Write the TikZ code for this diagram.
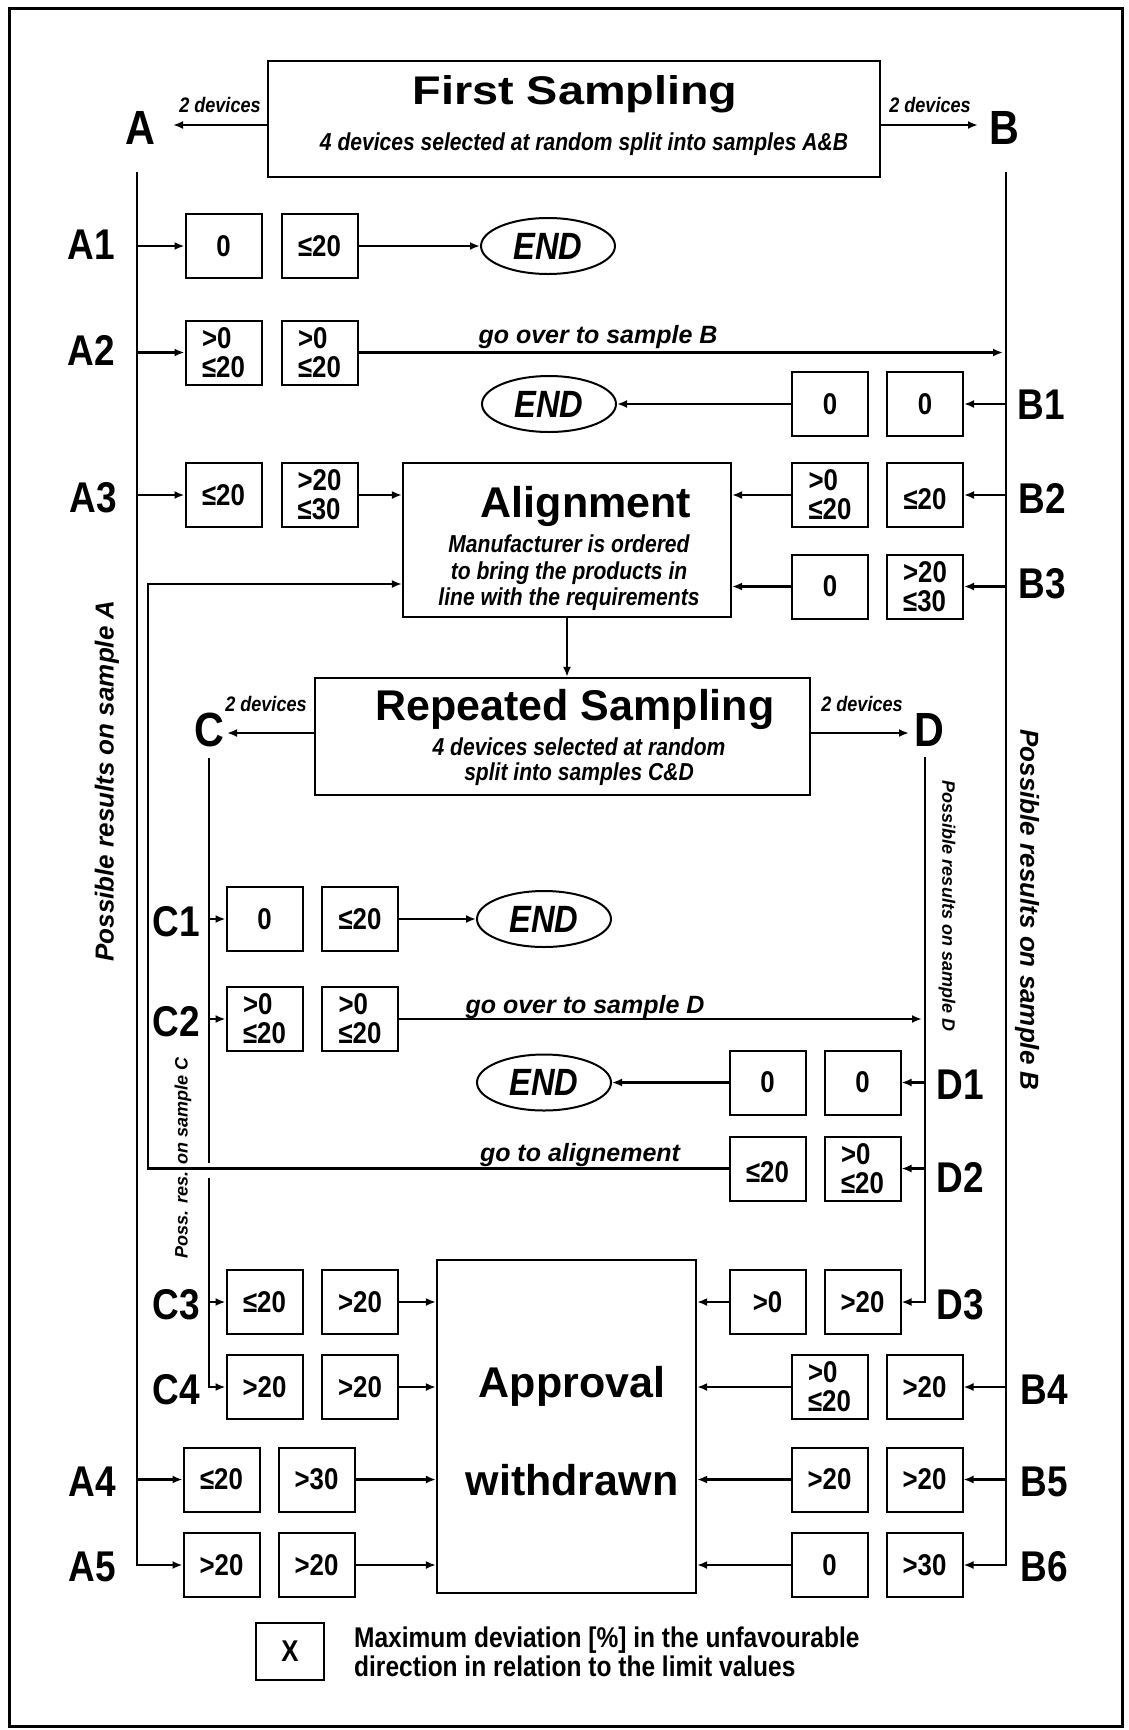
\documentclass[tikz,border=0pt]{standalone}
\usepackage{fontspec}
\setmainfont{Liberation Sans}
\newfontfamily\condfont{Liberation Sans}[FakeStretch=0.86]
\usetikzlibrary{arrows.meta,shapes.geometric,calc}
\newcommand\fsz[2]{\fontsize{#1}{#2}\selectfont}
\begin{document}
\begin{tikzpicture}[x=1pt,y=-1pt,
  box/.style={draw, line width=2.2pt, inner sep=0pt},
  val/.style={draw, line width=2pt, minimum width=76pt, minimum height=64pt, inner sep=0pt, align=left, font=\condfont\bfseries\fsz{30}{29}},
  endnode/.style={draw, ellipse, line width=2pt, minimum width=134pt, minimum height=56pt, inner sep=0pt, font=\condfont\bfseries\itshape\fsz{38}{40}},
  rowlab/.style={font=\condfont\bfseries\fsz{43}{46}, inner sep=0pt},
  biglab/.style={font=\condfont\bfseries\fsz{48}{50}, inner sep=0pt},
  title/.style={font=\bfseries\fsz{43}{46}, inner sep=0pt},
  sub/.style={font=\condfont\bfseries\itshape\fsz{24.5}{26.5}, inner sep=0pt, align=center},
  small/.style={font=\condfont\bfseries\itshape\fsz{21}{22}, inner sep=0pt},
  mid/.style={font=\bfseries\itshape\fsz{25}{28}, inner sep=0pt},
  rot/.style={font=\bfseries\itshape\fsz{26}{28}, inner sep=0pt},
  rotsm/.style={font=\bfseries\itshape\fsz{18}{20}, inner sep=0pt},
  legend/.style={font=\condfont\bfseries\fsz{28.5}{29}, inner sep=0pt, align=left},
  arr/.style={line width=2.2pt, -{Latex[length=10pt,width=8pt]}},
  ln/.style={line width=2.2pt}]
\useasboundingbox (0,0) rectangle (1129,1730);
\draw[line width=3pt] (9,8) rectangle (1122,1726);

% main boxes
\node[box, minimum width=612pt, minimum height=116pt] (FS) at (574,119) {};
\node[box, minimum width=328pt, minimum height=154pt] (Align) at (567,540) {};
\node[box, minimum width=495pt, minimum height=117pt] (RS) at (562.5,736.5) {};
\node[box, minimum width=259pt, minimum height=333pt] (Appr) at (566.5,1426.5) {};

% texts in main boxes
\node[title, anchor=base] (FStitle) at (575,104) {\scalebox{1.17}[1]{\fsz{40}{44}First Sampling}};
\node[sub, anchor=base] (FSsub) at (584,150) {4 devices selected at random split into samples A\&B};
\node[title, anchor=base] (AlTitle) at (586,517) {Alignment};
\node[sub] (AlSub) at (569,573) {Manufacturer is ordered\\to bring the products in\\line with the requirements};
\node[title, anchor=base] (RStitle) at (575,720) {Repeated Sampling};
\node[sub, font=\condfont\bfseries\itshape\fsz{24.5}{25}] (RSsub) at (579,762) {4 devices selected at random\\split into samples C\&D};
\node[title, anchor=base] (ApTitle1) at (572,1397) {Approval};
\node[title, anchor=base] (ApTitle2) at (572,1495) {withdrawn};

% sample letters
\node[biglab] (Alab) at (140,128) {A};
\node[biglab] (Blab) at (1004,128) {B};
\node[biglab] (Clab) at (209,730) {C};
\node[biglab] (Dlab) at (929,730) {D};
\node[small, anchor=base] (devA) at (220,112) {2 devices};
\node[small, anchor=base] (devB) at (930,112) {2 devices};
\node[small, anchor=base] (devC) at (266,711) {2 devices};
\node[small, anchor=base] (devD) at (862,711) {2 devices};

\coordinate (Atip) at (173,125);
\coordinate (Btip) at (978,125);
\coordinate (Ctip) at (227,733);
\coordinate (Dtip) at (909,733);
\draw[arr] (FS.west |- Atip) -- (Atip);
\draw[arr] (FS.east |- Btip) -- (Btip);
\draw[arr] (RS.west |- Ctip) -- (Ctip);
\draw[arr] (RS.east |- Dtip) -- (Dtip);

% vertical lines
\coordinate (Atop) at (137,172);
\coordinate (Btop) at (1006,172);
\coordinate (Ctop) at (209,758);
\coordinate (Dtop) at (925,757);
\coordinate (Cgapa) at (209,1163);
\coordinate (Cgapb) at (209,1178);
\coordinate (Loop) at (148,584);

% value boxes, sample A
\node[val] (A1a) at (223.5,246) {0};
\node[val] (A1b) at (319.5,246) {≤20};
\node[val] (A2a) at (223.5,352.5) {>0\\≤20};
\node[val] (A2b) at (319.5,352.5) {>0\\≤20};
\node[val] (A3a) at (223.5,495) {≤20};
\node[val] (A3b) at (319.5,495) {>20\\≤30};
\node[val] (A4a) at (221.5,1479.5) {≤20};
\node[val] (A4b) at (316.5,1479.5) {>30};
\node[val] (A5a) at (221.5,1565) {>20};
\node[val] (A5b) at (316.5,1565) {>20};
% sample B
\node[val] (B1a) at (830,404) {0};
\node[val] (B1b) at (925,404) {0};
\node[val] (B2a) at (830,495) {>0\\≤20};
\node[val] (B2b) at (925,495) {\mbox{}\\≤20};
\node[val] (B3a) at (830,586.5) {0};
\node[val] (B3b) at (925,586.5) {>20\\≤30};
\node[val] (B4a) at (829.5,1387) {>0\\≤20};
\node[val] (B4b) at (924.5,1387) {>20};
\node[val] (B5a) at (829.5,1479.5) {>20};
\node[val] (B5b) at (924.5,1479.5) {>20};
\node[val] (B6a) at (829.5,1565) {0};
\node[val] (B6b) at (924.5,1565) {>30};
% sample C
\node[val] (C1a) at (264.5,919) {0};
\node[val] (C1b) at (360,919) {≤20};
\node[val] (C2a) at (264.5,1019) {>0\\≤20};
\node[val] (C2b) at (360,1019) {>0\\≤20};
\node[val] (C3a) at (264.5,1302) {≤20};
\node[val] (C3b) at (360,1302) {>20};
\node[val] (C4a) at (264.5,1387) {>20};
\node[val] (C4b) at (360,1387) {>20};
% sample D
\node[val] (D1a) at (767.5,1082.5) {0};
\node[val] (D1b) at (862.5,1082.5) {0};
\node[val] (D2a) at (767.5,1168.5) {\mbox{}\\≤20};
\node[val] (D2b) at (862.5,1168.5) {>0\\≤20};
\node[val] (D3a) at (767.5,1302) {>0};
\node[val] (D3b) at (862.5,1302) {>20};

% END nodes
\node[endnode] (End1) at (548,246) {END};
\node[endnode] (End2) at (549,404) {END};
\node[endnode] (End3) at (544,919) {END};
\node[endnode] (End4) at (544,1082.5) {END};

% row labels
\node[rowlab] (LA1) at (91,245) {A1};
\node[rowlab] (LA2) at (91,350) {A2};
\node[rowlab] (LA3) at (93,498) {A3};
\node[rowlab] (LA4) at (92,1482) {A4};
\node[rowlab] (LA5) at (92,1567) {A5};
\node[rowlab] (LB1) at (1041,405) {B1};
\node[rowlab] (LB2) at (1042,498) {B2};
\node[rowlab] (LB3) at (1042,584) {B3};
\node[rowlab] (LB4) at (1044,1390) {B4};
\node[rowlab] (LB5) at (1044,1482) {B5};
\node[rowlab] (LB6) at (1044,1567) {B6};
\node[rowlab] (LC1) at (176,922) {C1};
\node[rowlab] (LC2) at (176,1022) {C2};
\node[rowlab] (LC3) at (176,1305) {C3};
\node[rowlab] (LC4) at (176,1390) {C4};
\node[rowlab] (LD1) at (960,1085) {D1};
\node[rowlab] (LD2) at (960,1177) {D2};
\node[rowlab] (LD3) at (960,1305) {D3};

% rotated captions
\node[rot, rotate=90] (possA) at (107,781) {Possible results on sample A};
\node[rot, rotate=-90] (possB) at (1027,910) {Possible results on sample B};
\node[rotsm, rotate=-90] (possD) at (947,906) {Possible results on sample D};
\node[rotsm, rotate=90] (possC) at (183,1158) {Poss. res. on sample C};

% connector labels
\node[mid, anchor=base] (goB) at (598,343) {go over to sample B};
\node[mid, anchor=base] (goD) at (585,1013) {go over to sample D};
\node[mid, anchor=base] (goAl) at (580,1161) {go to alignement};

% trunk lines
\draw[arr] (Atop) |- (A5a.west);
\draw[arr] (Btop) |- (B6b.east);
\draw[ln] (Ctop) -- (Cgapa);
\draw[arr] (Cgapb) |- (C4a.west);
\draw[arr] (Dtop) |- (D3b.east);

% branch arrows from trunks
\foreach \n in {A1a,A2a,A3a,A4a} \draw[arr] (\n.west -| Atop) -- (\n.west);
\foreach \n in {B1b,B2b,B3b,B4b,B5b} \draw[arr] (\n.east -| Btop) -- (\n.east);
\foreach \n in {C1a,C2a,C3a} \draw[arr] (\n.west -| Ctop) -- (\n.west);
\foreach \n in {D1b,D2b} \draw[arr] (\n.east -| Dtop) -- (\n.east);

% outcome arrows
\draw[arr] (A1b) -- (End1);
\draw[arr, shorten >=3pt] (A2b.east) -- (A2b.east -| Btop);
\draw[arr] (B1a) -- (End2);
\draw[arr] (A3b.east) -- (A3b.east -| Align.west);
\draw[arr] (B2a.west) -- (B2a.west -| Align.east);
\draw[arr] (B3a.west) -- (B3a.west -| Align.east);
\draw[arr] (Align.south) -- (Align.south |- RS.north);
\draw[arr] (C1b) -- (End3);
\draw[arr, shorten >=3pt] (C2b.east) -- (C2b.east -| Dtop);
\draw[arr] (D1a) -- (End4);
\draw[arr] (D2a.west) -| (Loop) -- (Loop -| Align.west);
\foreach \n in {C3b,C4b,A4b,A5b} \draw[arr] (\n.east) -- (\n.east -| Appr.west);
\foreach \n in {D3a,B4a,B5a,B6a} \draw[arr] (\n.west) -- (\n.west -| Appr.east);

% legend
\node[val, minimum width=68pt, minimum height=57pt, align=center] (legX) at (290,1651.5) {X};
\node[legend, anchor=west] (legT) at (354,1652) {Maximum deviation [\%] in the unfavourable\\direction in relation to the limit values};
\end{tikzpicture}
\end{document}
